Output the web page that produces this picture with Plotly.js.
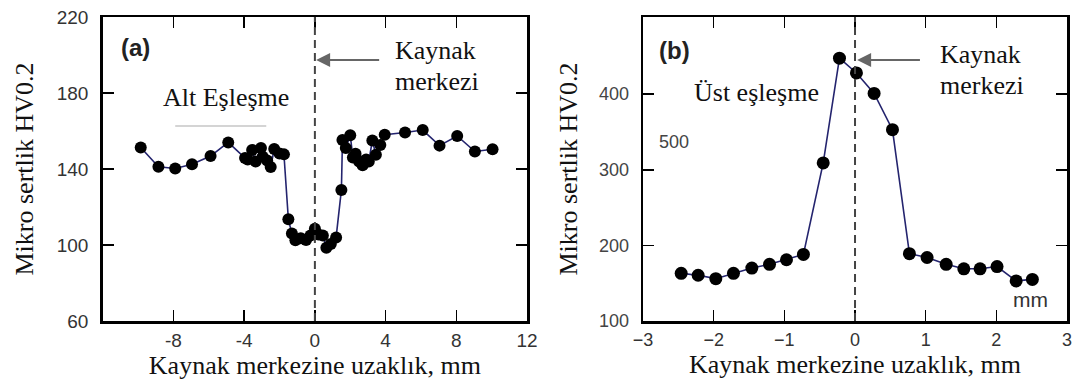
<!DOCTYPE html>
<html>
<head>
<meta charset="utf-8">
<script src="https://cdn.plot.ly/plotly-3.0.1.min.js"></script>
<style>
  html, body { margin: 0; padding: 0; background: #fff; }
  #chart { width: 1078px; height: 380px; }
</style>
</head>
<body>
<div id="chart"></div>
<script>
// (a) Alt eşleşme: mikrosertlik profili
const distA = [-9.85, -8.85, -7.9, -6.95, -5.9, -4.9, -3.95, -3.8, -3.55, -3.35, -3.05, -2.95,
  -2.7, -2.5, -2.3, -2.0, -1.75, -1.5, -1.3, -1.1, -0.8, -0.5, -0.25, 0.0, 0.2, 0.45, 0.65,
  0.9, 1.2, 1.5, 1.56, 1.75, 2.0, 2.15, 2.3, 2.5, 2.7, 2.9, 3.05, 3.25, 3.45, 3.7, 3.95,
  5.1, 6.1, 7.05, 8.05, 9.05, 10.05];
const hardA = [151.3, 141.2, 140.3, 142.5, 146.8, 154, 145.8, 145, 150, 144, 151, 146.5,
  144.5, 141, 150.5, 148.2, 147.7, 113.5, 106, 102.5, 103.5, 102.6, 105, 108.5, 105.5, 105, 98.5,
  100.5, 104, 129, 155.3, 151, 157.8, 146, 148, 144, 142, 145, 144, 155, 147.5, 152.6, 158,
  159.2, 160.5, 152.3, 157.4, 149.2, 150.4];

// (b) Üst eşleşme: mikrosertlik profili
const distB = [-2.46, -2.22, -1.97, -1.72, -1.46, -1.21, -0.97, -0.73, -0.45, -0.22, 0.02,
  0.27, 0.53, 0.77, 1.02, 1.29, 1.54, 1.77, 2.01, 2.28, 2.51];
const hardB = [163, 160.5, 156, 163, 170, 175, 181, 188, 309, 447.5, 428, 401, 353, 189,
  184, 175, 169, 169, 172, 153, 155];

// Eksen işaretleri
const ticksAx = [-12, -8, -4, 0, 4, 8, 12];
const labelsAx = ['', '-8', '-4', '0', '4', '8', '12'];
const ticksAy = [60, 100, 140, 180, 220];
const ticksBx = [-3, -2, -1, 0, 1, 2, 3];
const ticksBy = [100, 200, 300, 400];

const xTitle = 'Kaynak merkezine uzaklık, mm';
const yTitle = 'Mikro sertlik HV0.2';

const serif = 'Liberation Serif, Times New Roman, serif';
const sans = 'Liberation Sans, Arial, sans-serif';
const lineColor = '#24246e';

const trace = (x, y, xa, ya, size) => ({
  x: x, y: y, xaxis: xa, yaxis: ya, type: 'scatter', mode: 'lines+markers',
  line: {color: lineColor, width: 1.6},
  marker: {color: '#000', size: size},
  showlegend: false, hoverinfo: 'x+y'
});

const axisBase = {
  showline: true, linecolor: '#000', linewidth: 2.5, mirror: 'allticks',
  ticks: 'inside', ticklen: 11, tickwidth: 1.6, tickcolor: '#000',
  showgrid: false, zeroline: false,
  tickfont: {family: sans, size: 19, color: '#333'}
};

const layout = {
  width: 1078, height: 380,
  margin: {l: 0, r: 0, t: 17, b: 59},
  paper_bgcolor: '#fff', plot_bgcolor: '#fff',
  xaxis: Object.assign({}, axisBase, {
    domain: [0.0953, 0.4889], range: [-12, 12], anchor: 'y',
    tickvals: ticksAx, ticktext: labelsAx, ticklabelstandoff: 1,
    title: {text: xTitle, font: {family: serif, size: 26, color: '#111'}, standoff: 1}
  }),
  yaxis: Object.assign({}, axisBase, {
    domain: [0, 1], range: [60, 220], anchor: 'x',
    tickvals: ticksAy, ticklabelstandoff: 8,
    title: {text: yTitle, font: {family: serif, size: 26, color: '#111'}, standoff: 16}
  }),
  xaxis2: Object.assign({}, axisBase, {
    domain: [0.5965, 0.9898], range: [-3, 3], anchor: 'y2',
    tickvals: ticksBx, ticklabelstandoff: 1,
    tickfont: {family: sans, size: 18, color: '#333'},
    title: {text: xTitle, font: {family: serif, size: 26, color: '#111'}, standoff: 1}
  }),
  yaxis2: Object.assign({}, axisBase, {
    domain: [0, 1], range: [100, 502], anchor: 'x2',
    tickvals: ticksBy, ticklabelstandoff: 8,
    tickfont: {family: sans, size: 18, color: '#444'},
    title: {text: yTitle, font: {family: serif, size: 26, color: '#111'}, standoff: 14}
  }),
  shapes: [
    {type: 'line', xref: 'x', yref: 'y domain', x0: 0, x1: 0, y0: 0, y1: 1,
     line: {color: '#444', width: 2, dash: '8px,5px'}},
    {type: 'line', xref: 'x2', yref: 'y2 domain', x0: 0, x1: 0, y0: 0, y1: 1,
     line: {color: '#444', width: 2, dash: '8px,5px'}},
    {type: 'line', xref: 'x', yref: 'y', x0: -7.9, x1: -2.75, y0: 162.6, y1: 162.6,
     line: {color: '#d4d4d4', width: 2}}
  ],
  annotations: [
    {xref: 'x', yref: 'y', x: -10.15, y: 203.7, text: '<b>(a)</b>', showarrow: false,
     font: {family: sans, size: 24, color: '#222'}},
    {xref: 'x', yref: 'y', x: 6.85, y: 202.6, text: 'Kaynak', showarrow: false,
     font: {family: serif, size: 26, color: '#111'}},
    {xref: 'x', yref: 'y', x: 6.9, y: 185.8, text: 'merkezi', showarrow: false,
     font: {family: serif, size: 26, color: '#111'}},
    {xref: 'x', yref: 'y', x: -5.03, y: 177.4, text: 'Alt Eşleşme', showarrow: false,
     font: {family: serif, size: 26, color: '#111'}},
    {xref: 'x', yref: 'y', axref: 'x', ayref: 'y', x: 0.07, y: 197.4, ax: 3.72, ay: 197.4,
     text: '', showarrow: true, arrowhead: 2, arrowsize: 1.4, arrowwidth: 2, arrowcolor: '#666'},

    {xref: 'x2', yref: 'y2', x: -2.56, y: 458, text: '<b>(b)</b>', showarrow: false,
     font: {family: sans, size: 24, color: '#222'}},
    {xref: 'x2', yref: 'y2', x: 1.77, y: 451.8, text: 'Kaynak', showarrow: false,
     font: {family: serif, size: 26, color: '#111'}},
    {xref: 'x2', yref: 'y2', x: 1.8, y: 412, text: 'merkezi', showarrow: false,
     font: {family: serif, size: 26, color: '#111'}},
    {xref: 'x2', yref: 'y2', x: -1.4, y: 401.7, text: 'Üst eşleşme', showarrow: false,
     font: {family: serif, size: 26, color: '#111'}},
    {xref: 'x2', yref: 'y2', x: -2.56, y: 337, text: '500', showarrow: false,
     font: {family: sans, size: 18, color: '#444'}},
    {xref: 'x2', yref: 'y2', x: 2.49, y: 128.6, text: 'mm', showarrow: false,
     font: {family: sans, size: 21, color: '#333'}},
    {xref: 'x2', yref: 'y2', axref: 'x2', ayref: 'y2', x: 0.03, y: 445, ax: 0.94, ay: 445,
     text: '', showarrow: true, arrowhead: 2, arrowsize: 1.4, arrowwidth: 2, arrowcolor: '#666'}
  ]
};

Plotly.newPlot('chart', [
  trace(distA, hardA, 'x', 'y', 12),
  trace(distB, hardB, 'x2', 'y2', 13)
], layout, {staticPlot: true, displayModeBar: false});
</script>
</body>
</html>
